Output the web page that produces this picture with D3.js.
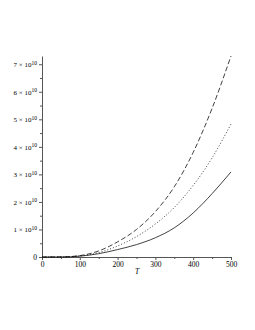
<!DOCTYPE html>
<html>
<head>
<meta charset="utf-8">
<script src="https://cdn.jsdelivr.net/npm/d3@7"></script>
<style>
  body { margin: 0; background: #fff; }
  svg text { font-family: 'Liberation Serif', 'DejaVu Serif', serif; fill: #000; }
</style>
</head>
<body>
<div id="root"></div>
<script>
// temperatures (x) and three curves, values in units of 1e10
const temps = [0, 50, 100, 150, 200, 250, 300, 350, 400, 450, 500];
const dashedVals = [0, 0.003, 0.05, 0.22, 0.55, 1.0, 1.65, 2.55, 3.8, 5.4, 7.3];
const dottedVals = [0, 0.002, 0.04, 0.16, 0.4, 0.74, 1.2, 1.8, 2.6, 3.6, 4.83];
const solidVals = [0, 0.002, 0.03, 0.12, 0.27, 0.45, 0.7, 1.06, 1.6, 2.3, 3.09];
const xTicks = [0, 100, 200, 300, 400, 500];
const yTicks = [0, 1, 2, 3, 4, 5, 6, 7];

const width = 255, height = 330;
const padLeft = 42, padRight = 231, padTop = 56, padBottom = 257;

const svg = d3.select('#root')
  .append('svg')
  .attr('width', width)
  .attr('height', height);

const xScale = d3.scaleLinear().domain([0, 500]).range([padLeft, padRight]);
const yScale = d3.scaleLinear().domain([0, 7.3]).range([padBottom, padTop]);

// minor ticks
const xAxisMinor = d3.axisBottom(xScale)
  .tickValues(d3.range(50, 500, 100))
  .tickSize(2).tickFormat('');
const yAxisMinor = d3.axisLeft(yScale)
  .tickValues(d3.range(0.5, 7.3, 1))
  .tickSize(2).tickFormat('');

svg.append('g')
  .attr('transform', `translate(0,${padBottom})`)
  .call(xAxisMinor)
  .call(g => g.select('.domain').remove());
svg.append('g')
  .attr('transform', `translate(${padLeft},0)`)
  .call(yAxisMinor)
  .call(g => g.select('.domain').remove());

const xAxis = d3.axisBottom(xScale)
  .tickValues(xTicks)
  .tickSize(3)
  .tickSizeOuter(0)
  .tickPadding(2);

const gx = svg.append('g')
  .attr('transform', `translate(0,${padBottom})`)
  .call(xAxis);
gx.selectAll('text').style('font-size', '7.5px').attr('fill', '#000');

const yAxis = d3.axisLeft(yScale)
  .tickValues(yTicks)
  .tickSize(3)
  .tickSizeOuter(0)
  .tickPadding(2)
  .tickFormat('');

const gy = svg.append('g')
  .attr('transform', `translate(${padLeft},0)`)
  .call(yAxis);

gy.selectAll('.tick').each(function (d) {
  const t = d3.select(this).select('text')
    .attr('fill', '#000')
    .style('font-size', '7px');
  t.text(null);
  if (d === 0) {
    t.text('0').style('font-size', '7.5px');
  } else {
    t.append('tspan').text(d + ' × 10');
    t.append('tspan').attr('dy', '-0.45em').style('font-size', '5.5px').text('10');
  }
});

svg.selectAll('.domain').attr('stroke', '#555');
svg.selectAll('.tick line').attr('stroke', '#555');

svg.append('text')
  .attr('x', 137)
  .attr('y', 274)
  .attr('text-anchor', 'middle')
  .style('font-size', '7.5px')
  .style('font-style', 'italic')
  .text('T');

const line = d3.line()
  .x((d, i) => xScale(temps[i]))
  .y(d => yScale(d))
  .curve(d3.curveMonotoneX);

const series = [
  { vals: dashedVals, dash: '5,2.5' },
  { vals: dottedVals, dash: '1,2' },
  { vals: solidVals, dash: null }
];

series.forEach(s => {
  svg.append('path')
    .datum(s.vals)
    .attr('d', line)
    .attr('fill', 'none')
    .attr('stroke', '#111')
    .attr('stroke-width', 0.8)
    .attr('stroke-dasharray', s.dash);
});
</script>
</body>
</html>
